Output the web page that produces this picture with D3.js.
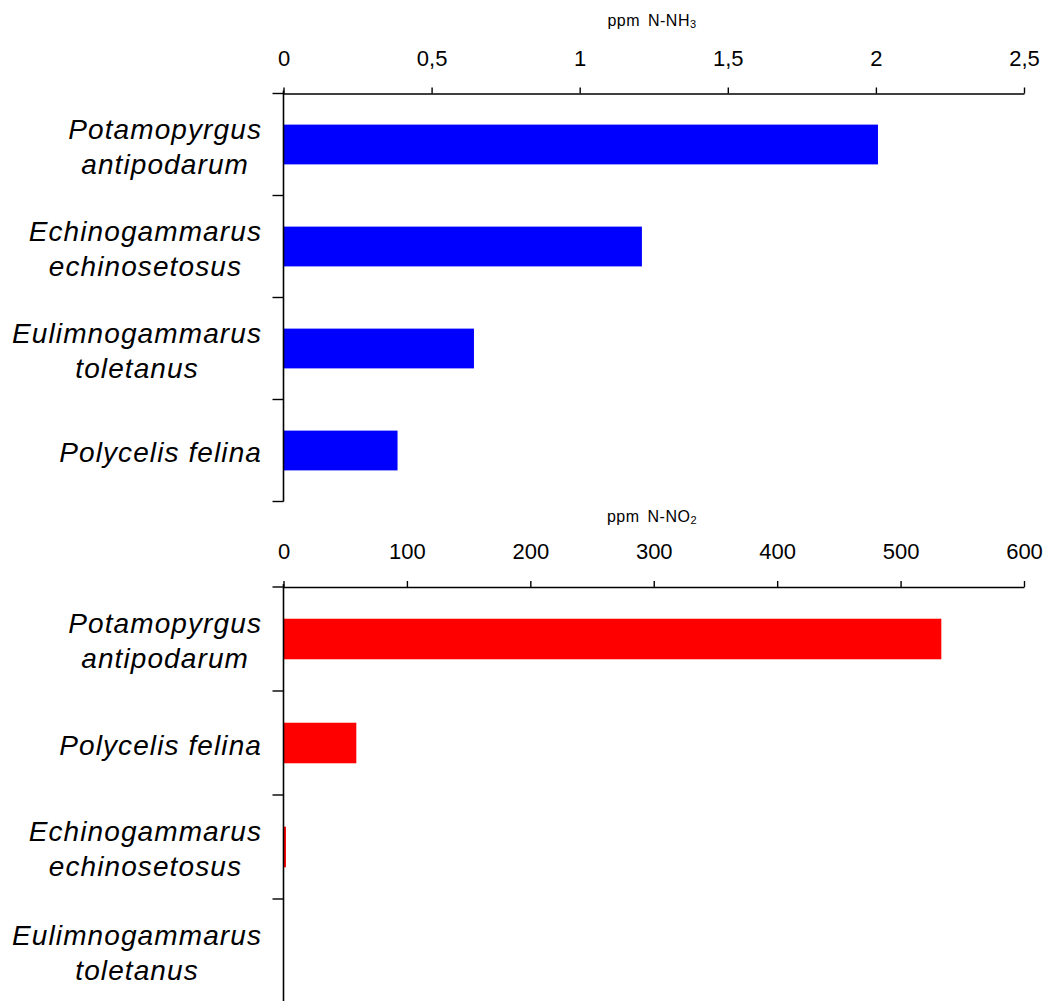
<!DOCTYPE html>
<html>
<head>
<meta charset="utf-8">
<script src="https://cdn.jsdelivr.net/npm/d3@7"></script>
<style>
  html, body { margin: 0; padding: 0; background: #fff; }
  svg { display: block; }
  text { font-family: "Liberation Sans", Arial, sans-serif; fill: #000; }
</style>
</head>
<body>
<svg id="chart" width="1044" height="1001"></svg>
<script>
// Ammonia panel (ppm N-NH3)
const nh3Species = [
  ["Potamopyrgus", "antipodarum"],
  ["Echinogammarus", "echinosetosus"],
  ["Eulimnogammarus", "toletanus"],
  ["Polycelis felina"]
];
const nh3Values = [2.007, 1.21, 0.643, 0.385];
const nh3Ticks = [0, 0.5, 1, 1.5, 2, 2.5];

// Nitrite panel (ppm N-NO2)
const no2Species = [
  ["Potamopyrgus", "antipodarum"],
  ["Polycelis felina"],
  ["Echinogammarus", "echinosetosus"],
  ["Eulimnogammarus", "toletanus"]
];
const no2Values = [533, 59, 2, 0];
const no2Ticks = [0, 100, 200, 300, 400, 500, 600];

const svg = d3.select("#chart");
const fmtComma = d => String(d).replace(".", ",");

function panel(opts) {
  const g = svg.append("g");
  const x = d3.scaleLinear().domain(opts.domain).range([283.5, 1024]);
  const keys = opts.species.map((s, i) => i);
  const y = d3.scaleBand().domain(keys).range([opts.top, opts.bottom])
    .paddingInner(0.61).paddingOuter(0.305);

  // axis title
  const t = g.append("text")
    .attr("x", opts.titleX).attr("y", opts.titleY)
    .attr("text-anchor", "middle")
    .style("font-size", "16px")
    .style("letter-spacing", "0.5px")
    .style("word-spacing", "3px");
  t.append("tspan").text(opts.title);
  t.append("tspan").text(opts.sub).attr("dy", 2).style("font-size", "11px");

  // value axis on top
  const ax = g.append("g")
    .attr("transform", `translate(0,${opts.top})`)
    .call(d3.axisTop(x).tickValues(opts.ticks).tickSize(6).tickSizeOuter(0)
      .tickFormat(opts.fmt).tickPadding(22));
  ax.select(".domain").attr("stroke", "#000").attr("stroke-width", 1.6);
  ax.selectAll(".tick line").attr("stroke", "#000").attr("stroke-width", 1.4);
  ax.selectAll(".tick text")
    .style("font-size", "22px")
    .style("font-family", "'Liberation Sans', Arial, sans-serif");

  // bars
  g.selectAll("rect.bar").data(opts.values).join("rect")
    .attr("class", "bar")
    .attr("x", x(0))
    .attr("y", (d, i) => y(i))
    .attr("width", d => x(d) - x(0))
    .attr("height", y.bandwidth())
    .attr("fill", opts.color);

  // category axis with ticks at band boundaries
  const step = y.step();
  const bounds = d3.range(keys.length + 1).map(i => opts.top + i * step);
  g.append("line")
    .attr("x1", x(0)).attr("x2", x(0))
    .attr("y1", opts.top - 3).attr("y2", opts.bottom)
    .attr("stroke", "#000").attr("stroke-width", 1.6);
  g.selectAll("line.ctick").data(bounds).join("line")
    .attr("class", "ctick")
    .attr("x1", x(0) - 11).attr("x2", x(0))
    .attr("y1", d => d).attr("y2", d => d)
    .attr("stroke", "#000").attr("stroke-width", 1.4);

  // category labels: centred lines, block right-aligned next to the axis
  const lineH = 35;
  opts.species.forEach((lines, i) => {
    const cy = y(i) + y.bandwidth() / 2 + 2;
    const txt = g.append("text")
      .style("font-size", "28px")
      .style("font-style", "italic")
      .style("letter-spacing", "1.1px")
      .attr("text-anchor", "middle");
    const spans = lines.map((l, k) => txt.append("tspan").text(l));
    const w = d3.max(spans, s => s.node().getComputedTextLength());
    const cx = 262 - w / 2;
    const y0 = cy - (lines.length - 1) * lineH / 2;
    spans.forEach((s, k) => s.attr("x", cx).attr("y", y0 + k * lineH).attr("dy", "0.35em"));
  });
}

panel({
  species: nh3Species, values: nh3Values, ticks: nh3Ticks, domain: [0, 2.5],
  top: 93.5, bottom: 501.5, color: "#0000ff",
  title: "ppm N-NH", sub: "3", titleX: 652, titleY: 26, fmt: fmtComma
});

panel({
  species: no2Species, values: no2Values, ticks: no2Ticks, domain: [0, 600],
  top: 587, bottom: 1003, color: "#ff0000",
  title: "ppm N-NO", sub: "2", titleX: 652, titleY: 522, fmt: d => d
});
</script>
</body>
</html>
